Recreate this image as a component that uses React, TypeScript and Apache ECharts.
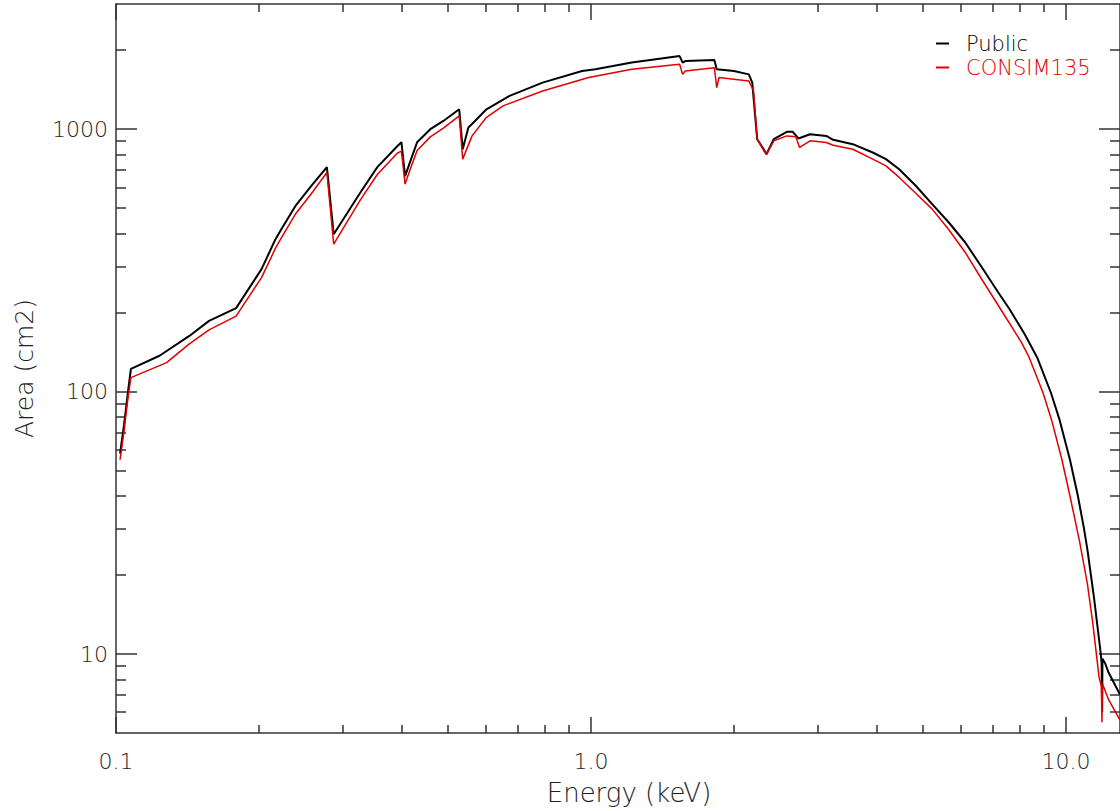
import React, { useEffect, useRef } from "react";
import * as echarts from "echarts";

// ---- data ----
const publicEnergy = [
  0.102, 0.104, 0.106, 0.1075, 0.1235, 0.1427, 0.157, 0.179, 0.2025, 0.2167, 0.2229, 0.2385,
  0.2575, 0.278, 0.2873, 0.3275, 0.355, 0.391, 0.399, 0.4061, 0.416, 0.4305, 0.459, 0.489,
  0.528, 0.537, 0.552, 0.566, 0.6026, 0.674, 0.791, 0.958, 1.022, 1.219, 1.537, 1.56,
  1.58, 1.819, 1.84, 2.0, 2.15, 2.186, 2.239, 2.31, 2.342, 2.426, 2.585, 2.66,
  2.735, 2.893, 3.13, 3.236, 3.56, 3.92, 4.18, 4.457, 4.83, 5.23, 5.67, 6.14,
  6.7, 7.2, 7.6, 8.18, 8.7, 9.3, 9.7, 10.2, 10.6, 10.92, 11.1, 11.46,
  11.83, 11.89, 11.92, 11.94, 12.1, 12.3, 13,
];
const publicArea = [
  58, 75, 100, 122, 137, 163, 186, 208, 293, 381, 416, 509,
  607, 717, 398, 576, 717, 861, 892, 662, 749, 892, 1000, 1075,
  1191, 839, 1015, 1060, 1191, 1339, 1505, 1667, 1691, 1794, 1900, 1794,
  1818, 1836, 1691, 1667, 1618, 1505, 916, 839, 803, 916, 977, 977,
  922, 957, 943, 911, 877, 815, 769, 704, 609, 518, 441, 370,
  292, 239, 207, 166, 135, 99, 78, 55, 40, 30, 25, 16.4,
  10.2, 9.3, 6.0, 9.6, 9.2, 8.5, 7.0,
];
const consimEnergy = [
  0.102, 0.104, 0.106, 0.1075, 0.1278, 0.1427, 0.157, 0.179, 0.2025, 0.2167, 0.2229, 0.2385,
  0.2575, 0.278, 0.2873, 0.3275, 0.355, 0.391, 0.399, 0.4061, 0.416, 0.4305, 0.459, 0.489,
  0.528, 0.537, 0.562, 0.6026, 0.653, 0.791, 0.989, 1.219, 1.537, 1.56, 1.58, 1.819,
  1.84, 1.86, 2.15, 2.2, 2.239, 2.31, 2.342, 2.426, 2.585, 2.7, 2.75, 2.893,
  3.13, 3.236, 3.56, 3.92, 4.18, 4.457, 4.83, 5.23, 5.67, 6.14, 6.65, 7.43,
  8.06, 8.37, 8.95, 9.33, 9.81, 10.2, 10.68, 11.1, 11.4, 11.74, 11.88, 11.91,
  11.94, 12.3, 13,
];
const consimArea = [
  55, 71, 95, 113, 129, 152, 172, 194, 272, 352, 385, 474,
  566, 684, 365, 540, 672, 810, 825, 618, 700, 830, 935, 1010,
  1124, 769, 943, 1110, 1227, 1399, 1573, 1691, 1767, 1618, 1667, 1716,
  1441, 1573, 1527, 1399, 916, 830, 803, 903, 943, 935, 852, 903,
  890, 869, 839, 769, 725, 655, 570, 496, 414, 339, 268, 195,
  154, 135, 99, 78, 55, 40, 27, 18.5, 13, 8.2, 7.5, 5.5,
  7.7, 6.7, 5.6,
];

const seriesNames = ["Public", "CONSIM135"];
const seriesColors = ["#000000", "#e00000"];

const xMin = 0.1;
const xMax = 13;
const yMin = 5;
const yMax = 3000;
const xMajorTicks = [0.1, 1, 10];
const xMajorLabels = ["0.1", "1.0", "10.0"];
const xMinorTicks = [0.2, 0.3, 0.4, 0.5, 0.6, 0.7, 0.8, 0.9, 2, 3, 4, 5, 6, 7, 8, 9];
const yMajorTicks = [10, 100, 1000];
const yMajorLabels = ["10", "100", "1000"];
const yMinorTicks = [6, 7, 8, 9, 20, 30, 40, 50, 60, 70, 80, 90, 200, 300, 400, 500, 600, 700, 800, 900, 2000];

const FONT = "DejaVu Sans";
const FONT_WEIGHT = 300;
const AXIS_COLOR = "#333333";
const TEXT_COLOR = "#1e1e1e";

const lg = (v: number) => Math.log10(v);

function tickAxis(
  kind: "x" | "y",
  position: string,
  values: number[],
  length: number,
  labels?: { values: number[]; texts: string[]; margin: number }
) {
  const mn = kind === "x" ? lg(xMin) : lg(yMin);
  const mx = kind === "x" ? lg(xMax) : lg(yMax);
  const labelMap: Record<string, string> = {};
  if (labels) labels.values.forEach((v, i) => (labelMap[lg(v).toFixed(6)] = labels.texts[i]));
  return {
    type: "value",
    position,
    min: mn,
    max: mx,
    splitLine: { show: false },
    axisLine: { show: false, onZero: false },
    axisTick: {
      show: true,
      inside: true,
      length,
      customValues: values.map(lg),
      lineStyle: { color: AXIS_COLOR, width: 1.5 },
    },
    axisLabel: labels
      ? {
          show: true,
          customValues: labels.values.map(lg),
          margin: labels.margin,
          color: TEXT_COLOR,
          fontFamily: FONT,
          fontWeight: FONT_WEIGHT,
          fontSize: 22,
          formatter: (v: number) => labelMap[v.toFixed(6)] ?? "",
        }
      : { show: false },
  };
}

function lineAxis(position: string, min: number, max: number, extra: any = {}) {
  return {
    type: "log",
    logBase: 10,
    position,
    min,
    max,
    splitLine: { show: false },
    axisLine: { show: true, onZero: false, lineStyle: { color: AXIS_COLOR, width: 1.5 } },
    axisTick: { show: false },
    axisLabel: { show: false },
    ...extra,
  };
}

export default function App() {
  const ref = useRef<HTMLDivElement>(null);

  useEffect(() => {
    if (!ref.current) return;
    const chart = echarts.init(ref.current, null, { renderer: "svg" });

    const publicData = publicEnergy.map((e, i) => [e, publicArea[i]]);
    const consimData = consimEnergy.map((e, i) => [e, consimArea[i]]);

    chart.setOption({
      animation: false,
      backgroundColor: "#ffffff",
      grid: { left: 116, top: 4, right: -10, bottom: 76 },
      legend: {
        orient: "vertical",
        left: 931,
        top: 28,
        itemWidth: 13,
        itemHeight: 2,
        itemGap: 3,
        icon: "rect",
        selectedMode: false,
        data: seriesNames.map((n, i) => ({
          name: n,
          textStyle: { color: seriesColors[i] },
        })),
        textStyle: { fontFamily: FONT, fontWeight: FONT_WEIGHT, fontSize: 21, padding: [0, 0, 0, 12] },
      },
      xAxis: [
        lineAxis("bottom", xMin, xMax, {
          name: "Energy (keV)",
          nameLocation: "middle",
          nameGap: 47,
          nameTextStyle: {
            fontFamily: FONT,
            fontWeight: FONT_WEIGHT,
            fontSize: 26,
            color: TEXT_COLOR,
            padding: [0, 0, 0, 22],
          },
        }),
        tickAxis("x", "bottom", xMajorTicks, 16, { values: xMajorTicks, texts: xMajorLabels, margin: 17 }),
        tickAxis("x", "bottom", xMinorTicks, 8),
        lineAxis("top", xMin, xMax),
        tickAxis("x", "top", xMajorTicks, 16),
        tickAxis("x", "top", xMinorTicks, 8),
      ],
      yAxis: [
        lineAxis("left", yMin, yMax, {
          name: "Area (cm2)",
          nameLocation: "middle",
          nameGap: 79,
          nameTextStyle: { fontFamily: FONT, fontWeight: FONT_WEIGHT, fontSize: 25, color: TEXT_COLOR },
        }),
        tickAxis("y", "left", yMajorTicks, 21, { values: yMajorTicks, texts: yMajorLabels, margin: 8 }),
        tickAxis("y", "left", yMinorTicks, 10),
        lineAxis("right", yMin, yMax),
        tickAxis("y", "right", yMajorTicks, 21),
        tickAxis("y", "right", yMinorTicks, 10),
      ],
      series: [
        {
          name: seriesNames[0],
          type: "line",
          xAxisIndex: 0,
          yAxisIndex: 0,
          data: publicData,
          showSymbol: false,
          symbol: "none",
          itemStyle: { color: seriesColors[0] },
          lineStyle: { color: seriesColors[0], width: 2 },
        },
        {
          name: seriesNames[1],
          type: "line",
          xAxisIndex: 0,
          yAxisIndex: 0,
          data: consimData,
          showSymbol: false,
          symbol: "none",
          itemStyle: { color: seriesColors[1] },
          lineStyle: { color: seriesColors[1], width: 1.5 },
        },
      ],
    });

    return () => chart.dispose();
  }, []);

  return (
    <div
      ref={ref}
      style={{ position: "fixed", left: 0, top: 0, width: 1120, height: 811, background: "#fff" }}
    />
  );
}
